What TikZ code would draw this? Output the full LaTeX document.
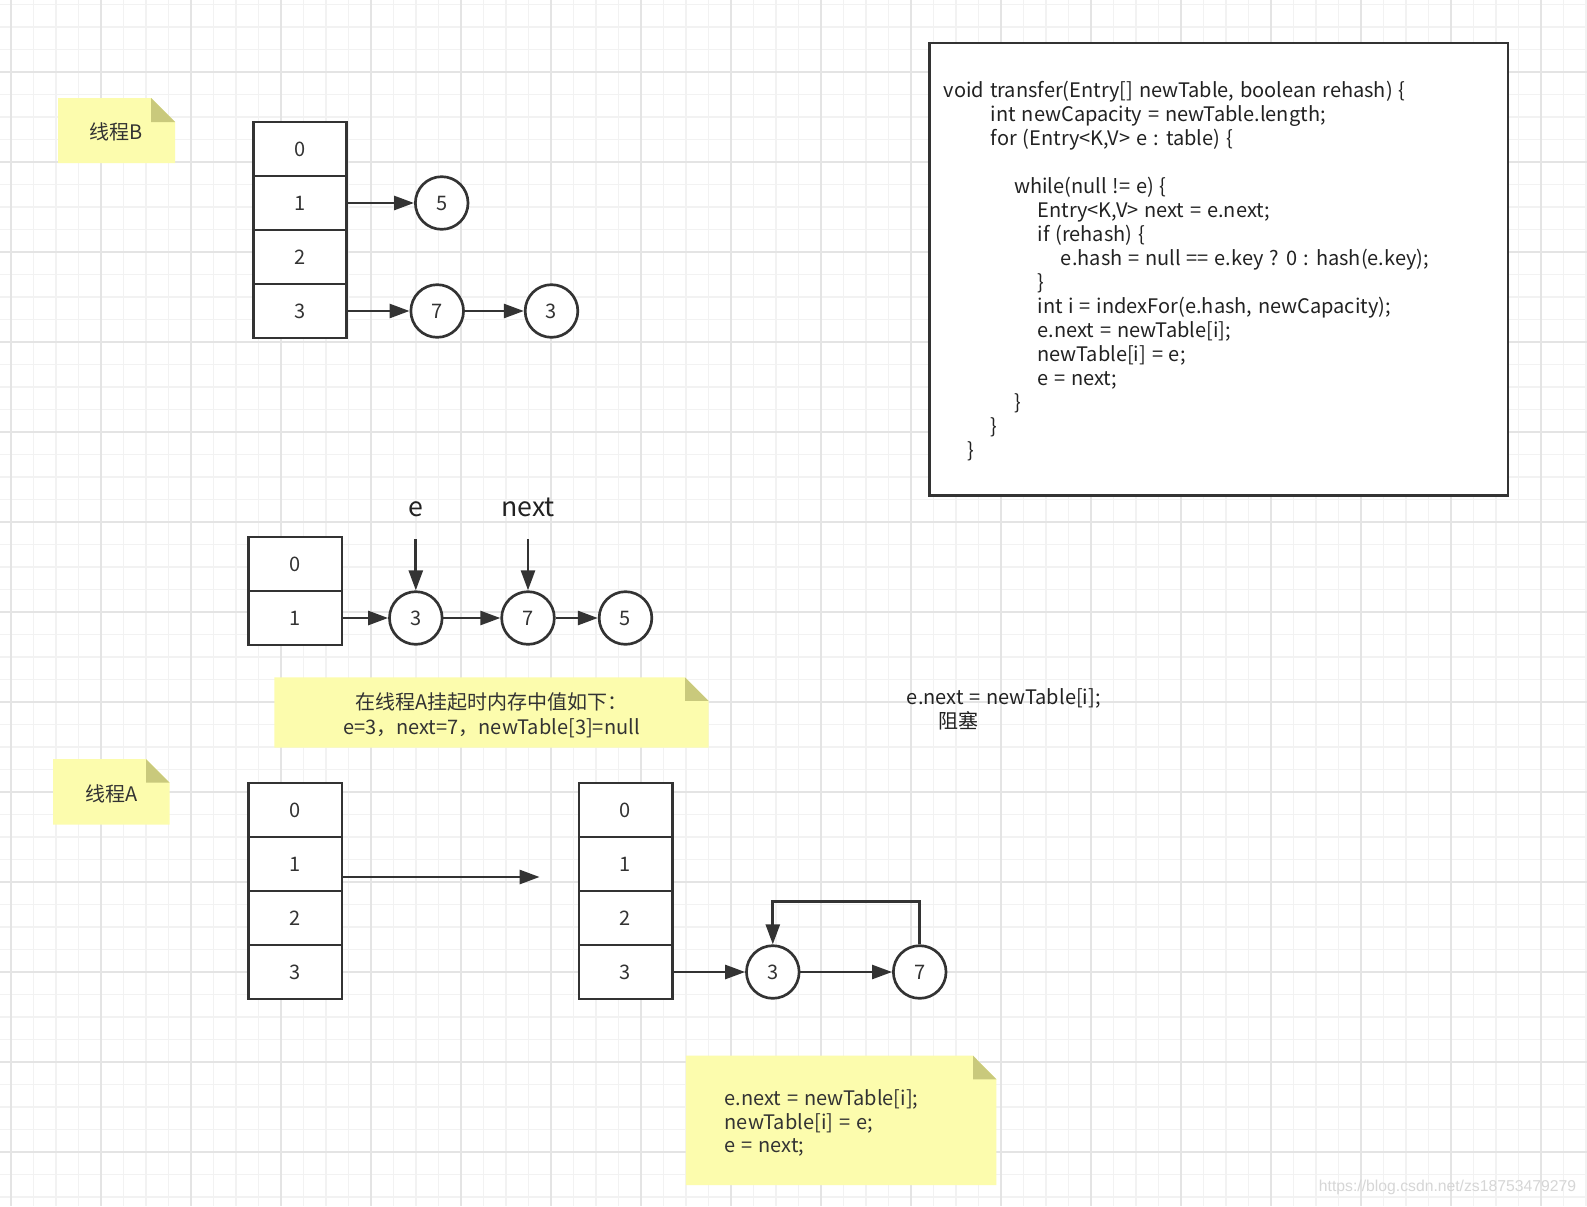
\documentclass[tikz,border=0pt]{standalone}
\usepackage{fontspec}
\setmainfont{Noto Sans CJK SC}[WordSpace=1.3]
\newfontfamily\wmfont{Liberation Sans}
\usetikzlibrary{arrows.meta,calc}
\definecolor{ln}{HTML}{333333}
\definecolor{txt}{HTML}{333333}
\definecolor{codetxt}{HTML}{222222}
\definecolor{notefill}{HTML}{FCFCAD}
\definecolor{foldfill}{HTML}{C9C97C}
\definecolor{gridminor}{HTML}{F2F2F2}
\definecolor{gridmajor}{HTML}{E4E4E4}
\definecolor{wm}{HTML}{D6D6D6}
\pgfdeclarelayer{gridlayer}
\pgfdeclarelayer{notelayer}
\pgfsetlayers{gridlayer,notelayer,main}
\begin{document}
\begin{tikzpicture}[x=0.75pt,y=-0.75pt,
  basefont/.style={font=\fontsize{15pt}{18pt}\selectfont},
  cell/.style={draw=ln, line width=2pt, fill=white, minimum width=70pt, minimum height=40.5pt, inner sep=0pt, text=txt, basefont},
  circ/.style={circle, draw=ln, line width=2pt, fill=white, minimum size=39.5pt, inner sep=0pt, text=txt, basefont},
  arr/.style={draw=ln, line width=2pt, -{Triangle[length=15pt,width=10.5pt]}},
  notetext/.style={text=txt, inner sep=0pt, basefont},
  codetext/.style={text=codetxt, inner sep=0pt, anchor=west, text height=11pt, text depth=3pt, basefont},
  biglabel/.style={text=codetxt, inner sep=0pt, font=\fontsize{20pt}{24pt}\selectfont}
]
\useasboundingbox (0,0) rectangle (1587,1206);
% ---------- background grid ----------
\begin{pgfonlayer}{gridlayer}
  \fill[white] (0,0) rectangle (1587,1206);
  \foreach \x in {11,33.5,...,1587} \draw[gridminor, line width=0.9pt] (\x,0) -- (\x,1206);
  \foreach \y in {4.5,27,...,1206} \draw[gridminor, line width=0.9pt] (0,\y) -- (1587,\y);
  \foreach \x in {11,101,...,1587} \draw[gridmajor, line width=0.9pt] (\x,0) -- (\x,1206);
  \foreach \y in {72,162,...,1206} \draw[gridmajor, line width=0.9pt] (0,\y) -- (1587,\y);
\end{pgfonlayer}

% ---------- notes (yellow, folded corner) ----------
\begin{pgfonlayer}{notelayer}
  % thread B
  \fill[notefill] (58,98) -- (151,98) -- (175,122) -- (175,163) -- (58,163) -- cycle;
  \fill[foldfill] (151,98) -- (151,122) -- (175,122) -- cycle;
  % thread A
  \fill[notefill] (53,759) -- (146,759) -- (169.5,782.5) -- (169.5,824.5) -- (53,824.5) -- cycle;
  \fill[foldfill] (146,759) -- (146,782.5) -- (169.5,782.5) -- cycle;
  % middle note
  \fill[notefill] (274.3,677.3) -- (685,677.3) -- (708.5,700.8) -- (708.5,747.7) -- (274.3,747.7) -- cycle;
  \fill[foldfill] (685,677.3) -- (685,700.8) -- (708.5,700.8) -- cycle;
  % bottom note
  \fill[notefill] (685.8,1055.7) -- (973,1055.7) -- (996.3,1079.3) -- (996.3,1185) -- (685.8,1185) -- cycle;
  \fill[foldfill] (973,1055.7) -- (973,1079.3) -- (996.3,1079.3) -- cycle;
\end{pgfonlayer}
\node[notetext] (noteB) at (116.5,132) {线程B};
\node[notetext] (noteA) at (111.5,794) {线程A};
\node[notetext, align=center, font=\fontsize{15pt}{18.75pt}\selectfont] (noteMid) at (491.4,715)
  {在线程A挂起时内存中值如下：\\e=3，next=7，newTable[3]=null};
\node[notetext, align=left, anchor=west, font=\fontsize{15pt}{17.9pt}\selectfont] (noteBot) at (724.4,1123)
  {e.next = newTable[i];\\newTable[i] = e;\\e = next;};

% ---------- thread B table ----------
\node[cell] (b0) at (300,149) {0};
\node[cell] (b1) at (300,203) {1};
\node[cell] (b2) at (300,257) {2};
\node[cell] (b3) at (300,311) {3};
\node[circ] (t5) at (441.7,203) {5};
\node[circ] (t7) at (437.2,311) {7};
\node[circ] (t3) at (551.5,311) {3};
\draw[arr] (b1.east) -- (t5.west);
\draw[arr] (b3.east) -- (t7.west);
\draw[arr] (t7.east) -- (t3.west);

% ---------- middle state ----------
\node[cell] (m0) at (295.3,564) {0};
\node[cell] (m1) at (295.3,618) {1};
\node[circ] (m3) at (415.8,618) {3};
\node[circ] (m7) at (528,618) {7};
\node[circ] (m5) at (625.5,618) {5};
\node[biglabel] (le) at (415.8,509) {e};
\node[biglabel] (lnext) at (528,507) {next};
\coordinate (eTop) at (415.8,539);
\coordinate (nTop) at (528,539);
\draw[arr] (m1.east) -- (m3.west);
\draw[arr] (m3.east) -- (m7.west);
\draw[arr] (m7.east) -- (m5.west);
\draw[arr] (eTop) -- (m3.north);
\draw[arr] (nTop) -- (m7.north);

% ---------- thread A ----------
\node[cell] (l0) at (295.4,810) {0};
\node[cell] (l1) at (295.4,864) {1};
\node[cell] (l2) at (295.4,918) {2};
\node[cell] (l3) at (295.4,972) {3};
\node[cell] (r0) at (625.5,810) {0};
\node[cell] (r1) at (625.5,864) {1};
\node[cell] (r2) at (625.5,918) {2};
\node[cell] (r3) at (625.5,972) {3};
\node[circ] (c3) at (772.8,972) {3};
\node[circ] (c7) at (919.7,972) {7};
\coordinate (tgt) at (539.6,877);
\draw[arr] (l1.east |- tgt) -- (tgt);
\draw[arr] (r3.east) -- (c3.west);
\draw[arr] (c3.east) -- (c7.west);
\draw[arr] (c7.north) -- ++(0,-43) -| (c3.north);

% ---------- blocking text ----------
\node[notetext, align=left, anchor=west, text=codetxt, font=\fontsize{15pt}{18.3pt}\selectfont] (block) at (906.7,709.5)
  {e.next = newTable[i];\\\hspace*{23.7pt}阻塞};

% ---------- code box ----------
\node[draw=ln, line width=2pt, fill=white, minimum width=433.7pt, minimum height=339.2pt, inner sep=0pt] (code) at (1218.9,269.2) {};
\foreach \ind/\row/\t in {
  0/0/{void transfer(Entry[] newTable, boolean rehash) \{},
  2/1/{int newCapacity = newTable.length;},
  2/2/{for (Entry<K,V> e : table) \{},
  3/4/{while(null != e) \{},
  4/5/{Entry<K,V> next = e.next;},
  4/6/{if (rehash) \{},
  5/7/{e.hash = null == e.key ? 0 : hash(e.key);},
  4/8/{\}},
  4/9/{int i = indexFor(e.hash, newCapacity);},
  4/10/{e.next = newTable[i];},
  4/11/{newTable[i] = e;},
  4/12/{e = next;},
  3/13/{\}},
  2/14/{\}},
  1/15/{\}}}
  \node[codetext] (code\row) at ({943.7+23.4*\ind},{92+24*\row}) {\t};

% ---------- watermark ----------
\node[text=wm, inner sep=0pt, font=\wmfont\fontsize{11.8pt}{14pt}\selectfont] (wmark) at (1447.5,1187.3) {https://blog.csdn.net/zs18753479279};
\end{tikzpicture}
\end{document}
